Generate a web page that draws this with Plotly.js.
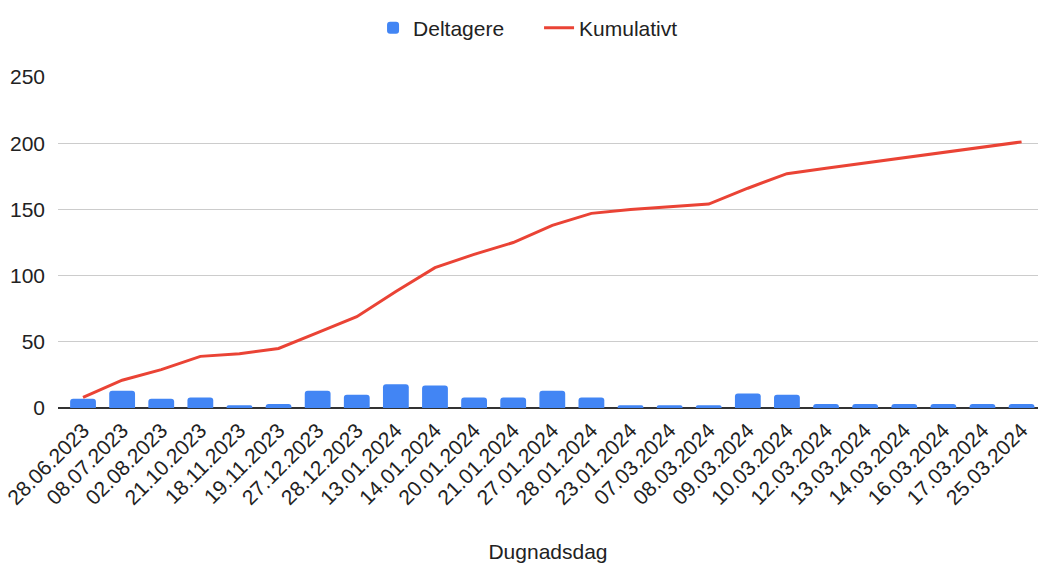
<!DOCTYPE html>
<html>
<head>
<meta charset="utf-8">
<script src="https://cdn.plot.ly/plotly-3.0.1.min.js"></script>
<style>
  html, body { margin: 0; padding: 0; background: #fff; }
  #chart { width: 1040px; height: 563px; }
</style>
</head>
<body>
<div id="chart"></div>
<script>
const categories = [
  "28.06.2023", "08.07.2023", "02.08.2023", "21.10.2023", "18.11.2023",
  "19.11.2023", "27.12.2023", "28.12.2023", "13.01.2024", "14.01.2024",
  "20.01.2024", "21.01.2024", "27.01.2024", "28.01.2024", "23.01.2024",
  "07.03.2024", "08.03.2024", "09.03.2024", "10.03.2024", "12.03.2024",
  "13.03.2024", "14.03.2024", "16.03.2024", "17.03.2024", "25.03.2024"
];
const deltagere = [7, 13, 7, 8, 2, 3, 13, 10, 18, 17, 8, 8, 13, 8, 2, 2, 2, 11, 10, 3, 3, 3, 3, 3, 3];
const kumulativt = [8, 21, 29, 39, 41, 45, 57, 69, 88, 106, 116, 125, 138, 147, 150, 152, 154, 166, 177, 181, 185, 189, 193, 197, 201];
const yTicks = [0, 50, 100, 150, 200, 250];

const FONT = '"Liberation Sans", Arial, sans-serif';

const traces = [
  {
    type: 'bar',
    name: 'Deltagere',
    x: categories,
    y: deltagere,
    width: 0.66,
    marker: { color: '#4285F4', cornerradius: 3 },
    hoverinfo: 'x+y'
  },
  {
    type: 'scatter',
    mode: 'lines',
    name: 'Kumulativt',
    x: categories,
    y: kumulativt,
    line: { color: '#EA4335', width: 3 },
    hoverinfo: 'x+y'
  }
];

const layout = {
  width: 1040,
  height: 563,
  margin: { l: 58, r: 2, t: 76.5, b: 155 },
  paper_bgcolor: '#fff',
  plot_bgcolor: '#fff',
  font: { family: FONT, size: 21, color: '#222' },
  showlegend: true,
  legend: {
    orientation: 'h',
    xref: 'container', yref: 'container',
    x: 0.3587, xanchor: 'left',
    y: 0.95, yanchor: 'middle',
    font: { family: FONT, size: 21, color: '#222' },
    entrywidth: 121,
    entrywidthmode: 'pixels',
    traceorder: 'normal'
  },
  xaxis: {
    type: 'category',
    range: [-0.64, 24.42],
    tickangle: -45,
    tickfont: { family: FONT, size: 21, color: '#222' },
    showgrid: false,
    ticks: '',
    ticklabelstandoff: 5,
    showline: false,
    zeroline: false,
    automargin: true,
    title: { text: 'Dugnadsdag', font: { family: FONT, size: 21, color: '#222' }, standoff: 38 }
  },
  yaxis: {
    range: [0, 250],
    tickvals: yTicks,
    ticktext: yTicks.map(String),
    tickfont: { family: FONT, size: 21, color: '#222' },
    showgrid: true,
    gridcolor: '#cccccc',
    gridwidth: 1,
    zeroline: true,
    zerolinecolor: '#333333',
    zerolinewidth: 1.5,
    ticks: '',
    ticklabelstandoff: 12,
    showline: false,
    automargin: false,
    fixedrange: true
  }
};

Plotly.newPlot('chart', traces, layout, { displayModeBar: false, staticPlot: true });
</script>
</body>
</html>
